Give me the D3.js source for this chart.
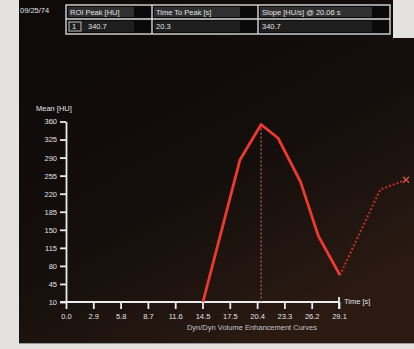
<!DOCTYPE html>
<html>
<head>
<meta charset="utf-8">
<script src="https://cdn.jsdelivr.net/npm/d3@7"></script>
<style>
  body { margin: 0; background: #e4e2e0; }
  svg { display: block; font-family: "Liberation Sans", Arial, sans-serif; }
</style>
</head>
<body>
<svg id="chart" width="414" height="349"></svg>
<script>
// curve values
const timeValues = [14.6, 18.55, 20.8, 22.6, 25.0, 26.9, 29.2];
const meanValues = [10, 286, 354, 328, 243, 138, 62];
// dotted continuation after the minimum
const tailTimes = [29.2, 33.5, 36.25];
const tailMeans = [62, 228, 247];
const peakTime = 20.8;

const yTicks = [10, 45, 80, 115, 150, 185, 220, 255, 290, 325, 360];
const xTickValues = [0, 2.91, 5.82, 8.73, 11.64, 14.55, 17.46, 20.37, 23.28, 26.19, 29.1];
const xTickLabels = ["0.0", "2.9", "5.8", "8.7", "11.6", "14.5", "17.5", "20.4", "23.3", "26.2", "29.1"];

// header table text
const headerRow = ["ROI  Peak [HU]", "Time To Peak [s]", "Slope [HU/s] @ 20.06 s"];
const valueRow = ["340.7", "20.3", "340.7"];

const svg = d3.select("#chart");

// screen background
const defs = svg.append("defs");
const grad = defs.append("linearGradient").attr("id", "bg")
  .attr("x1", "0").attr("y1", "0").attr("x2", "0.6").attr("y2", "1");
grad.append("stop").attr("offset", "0").attr("stop-color", "#0d0a0a");
grad.append("stop").attr("offset", "0.6").attr("stop-color", "#140e0c");
grad.append("stop").attr("offset", "1").attr("stop-color", "#2a1a12");

svg.append("rect").attr("x", 19).attr("y", 0).attr("width", 395).attr("height", 343)
  .attr("fill", "url(#bg)");
svg.append("rect").attr("x", 393).attr("y", 0).attr("width", 21).attr("height", 38)
  .attr("fill", "#e4e2e0");
svg.append("line").attr("x1", 19).attr("x2", 414).attr("y1", 343.5).attr("y2", 343.5)
  .attr("stroke", "#9a9896");

const textColor = "#e2e2e2";

// date label
svg.append("text").attr("x", 20).attr("y", 13).attr("fill", textColor)
  .attr("font-size", 7.5).text("09/25/74");

// header table
const cols = [66, 152, 258, 390];
const rows = [5, 19, 34];
const table = svg.append("g");
table.append("rect").attr("x", cols[0]).attr("y", rows[0])
  .attr("width", cols[3] - cols[0]).attr("height", rows[2] - rows[0])
  .attr("fill", "#0a0a0a").attr("stroke", "#d8d8d8").attr("stroke-width", 1.4);
table.append("line").attr("x1", cols[0]).attr("x2", cols[3]).attr("y1", rows[1]).attr("y2", rows[1])
  .attr("stroke", "#d8d8d8").attr("stroke-width", 1.4);
[cols[1], cols[2]].forEach(c => {
  table.append("line").attr("x1", c).attr("x2", c).attr("y1", rows[0]).attr("y2", rows[2])
    .attr("stroke", "#d8d8d8").attr("stroke-width", 1.4);
});
headerRow.forEach((t, i) => {
  table.append("rect").attr("x", cols[i] + 2).attr("y", rows[0] + 2)
    .attr("width", cols[i + 1] - cols[i] - 20).attr("height", 10).attr("fill", "#303030");
  table.append("text").attr("x", cols[i] + 4).attr("y", rows[0] + 10)
    .attr("fill", textColor).attr("font-size", 7.5).text(t);
});
valueRow.forEach((t, i) => {
  table.append("rect").attr("x", cols[i] + 2).attr("y", rows[1] + 2)
    .attr("width", cols[i + 1] - cols[i] - 20).attr("height", 11).attr("fill", "#1e1e1e");
  table.append("text").attr("x", cols[i] + (i == 0 ? 22 : 4)).attr("y", rows[1] + 10)
    .attr("fill", textColor).attr("font-size", 7.5).text(t);
});
table.append("rect").attr("x", cols[0] + 3).attr("y", rows[1] + 3)
  .attr("width", 12).attr("height", 9).attr("fill", "none").attr("stroke", "#bbb");
table.append("text").attr("x", cols[0] + 6).attr("y", rows[1] + 10)
  .attr("fill", textColor).attr("font-size", 7.5).text("1");

// scales
const x = d3.scaleLinear().domain([0, 29.1]).range([66, 339]);
const y = d3.scaleLinear().domain([10, 360]).range([302, 121.5]);

// y axis
const yAxis = svg.append("g").attr("transform", "translate(66,0)")
  .call(d3.axisLeft(y).tickValues(yTicks).tickSize(6).tickSizeOuter(0));
// x axis
const xAxis = svg.append("g").attr("transform", "translate(0,302)")
  .call(d3.axisBottom(x).tickValues(xTickValues).tickSize(7).tickSizeOuter(0)
    .tickFormat((d, i) => xTickLabels[i]));

[yAxis, xAxis].forEach(a => {
  a.select(".domain").attr("stroke", "#ececec").attr("stroke-width", 1.8);
  a.selectAll(".tick line").attr("stroke", "#ececec").attr("stroke-width", 1.8);
  a.selectAll(".tick text").attr("fill", textColor).attr("font-size", 7.5)
    .attr("font-family", "Liberation Sans, Arial, sans-serif");
});
xAxis.select(".domain").attr("d", "M60,0H339");
xAxis.selectAll(".tick text").attr("dy", "0.9em");
xAxis.append("line").attr("x1", 339).attr("x2", 339).attr("y1", -5).attr("y2", 7)
  .attr("stroke", "#ececec").attr("stroke-width", 1.8);

svg.append("text").attr("x", 36).attr("y", 111).attr("fill", textColor)
  .attr("font-size", 7.5).text("Mean [HU]");
svg.append("text").attr("x", 344).attr("y", 304).attr("fill", textColor)
  .attr("font-size", 7.5).text("Time [s]");
svg.append("text").attr("x", 252).attr("y", 330).attr("text-anchor", "middle")
  .attr("fill", "#c4c4c4").attr("font-size", 7.5).text("Dyn/Dyn Volume Enhancement Curves");

// peak marker line
svg.append("line").attr("x1", x(peakTime)).attr("x2", x(peakTime))
  .attr("y1", y(354)).attr("y2", y(10))
  .attr("stroke", "#c8625a").attr("stroke-width", 1.2).attr("stroke-dasharray", "2,2");

const line = d3.line().x(d => x(d[0])).y(d => y(d[1]));

// dotted tail
svg.append("path").datum(tailTimes.map((t, i) => [t, tailMeans[i]]))
  .attr("d", line).attr("fill", "none")
  .attr("stroke", "#c0302a").attr("stroke-width", 2).attr("stroke-dasharray", "2,2");

// main curve
svg.append("path").datum(timeValues.map((t, i) => [t, meanValues[i]]))
  .attr("d", line).attr("fill", "none")
  .attr("stroke", "#ee3a2e").attr("stroke-width", 2.8).attr("stroke-linejoin", "round");

// end marker
const ex = x(tailTimes[2]), ey = y(tailMeans[2]);
svg.append("path").attr("d", `M${ex - 3},${ey - 3}L${ex + 3},${ey + 3}M${ex - 3},${ey + 3}L${ex + 3},${ey - 3}`)
  .attr("stroke", "#d0504a").attr("stroke-width", 1.4);
</script>
</body>
</html>
